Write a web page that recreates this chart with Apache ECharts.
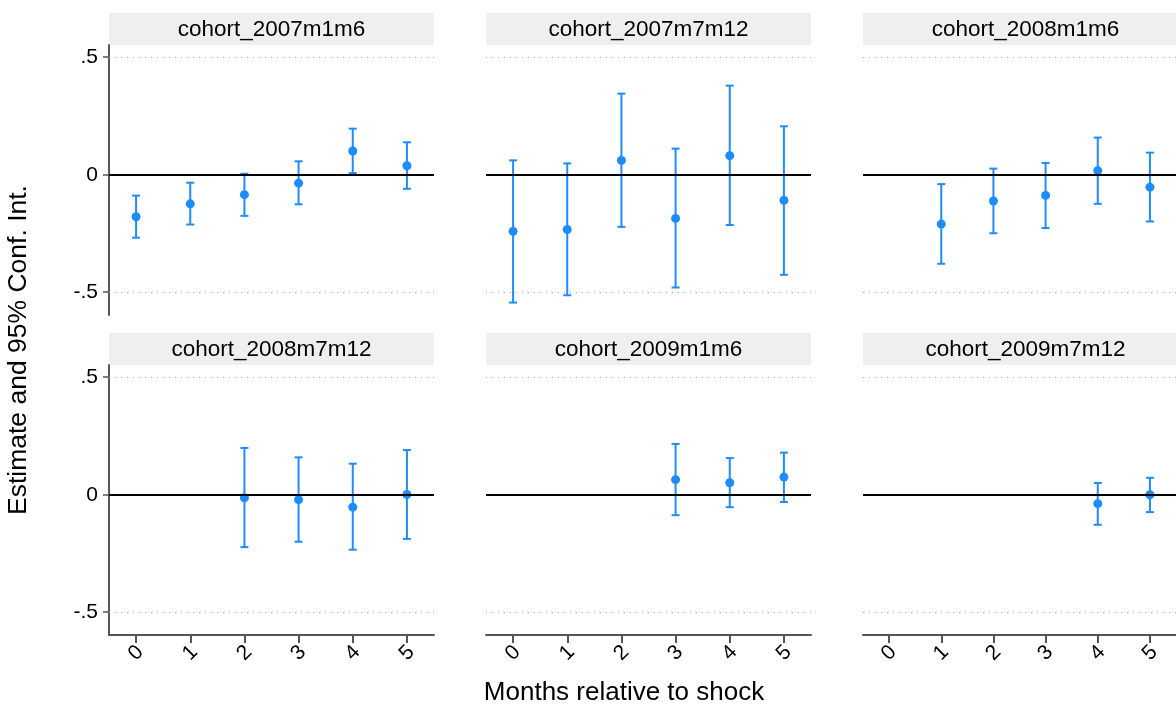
<!DOCTYPE html>
<html>
<head>
<meta charset="utf-8">
<script src="https://cdn.jsdelivr.net/npm/echarts@6/dist/echarts.min.js"></script>
<style>
  html, body { margin: 0; padding: 0; background: #fff; overflow: hidden; }
  #chart { width: 1176px; height: 704px; }
</style>
</head>
<body>
<div id="chart"></div>
<script>
// ---------------- data ----------------
const months = ['0', '1', '2', '3', '4', '5'];
const yTicks = [-0.5, 0, 0.5];
const yTickLabels = ['-.5', '0', '.5'];
const panelNames = ['cohort_2007m1m6', 'cohort_2007m7m12', 'cohort_2008m1m6',
                    'cohort_2008m7m12', 'cohort_2009m1m6', 'cohort_2009m7m12'];
const xTitle = 'Months relative to shock';
const yTitle = 'Estimate and 95% Conf. Int.';

const est_2007m1m6  = [-0.179, -0.124, -0.085, -0.036, 0.101, 0.038];
const lo_2007m1m6   = [-0.268, -0.212, -0.175, -0.126, 0.007, -0.060];
const hi_2007m1m6   = [-0.089, -0.034, 0.004, 0.057, 0.196, 0.138];

const est_2007m7m12 = [-0.241, -0.233, 0.061, -0.186, 0.081, -0.109];
const lo_2007m7m12  = [-0.544, -0.513, -0.222, -0.480, -0.214, -0.426];
const hi_2007m7m12  = [0.061, 0.048, 0.345, 0.111, 0.379, 0.206];

const est_2008m1m6  = [null, -0.210, -0.112, -0.088, 0.017, -0.053];
const lo_2008m1m6   = [null, -0.379, -0.249, -0.227, -0.124, -0.199];
const hi_2008m1m6   = [null, -0.040, 0.026, 0.050, 0.158, 0.094];

const est_2008m7m12 = [null, null, -0.013, -0.021, -0.053, 0.001];
const lo_2008m7m12  = [null, null, -0.223, -0.200, -0.234, -0.188];
const hi_2008m7m12  = [null, null, 0.199, 0.159, 0.132, 0.190];

const est_2009m1m6  = [null, null, null, 0.064, 0.051, 0.075];
const lo_2009m1m6   = [null, null, null, -0.087, -0.053, -0.031];
const hi_2009m1m6   = [null, null, null, 0.216, 0.156, 0.179];

const est_2009m7m12 = [null, null, null, null, -0.038, 0.000];
const lo_2009m7m12  = [null, null, null, null, -0.128, -0.074];
const hi_2009m7m12  = [null, null, null, null, 0.050, 0.072];

const estimates = [est_2007m1m6, est_2007m7m12, est_2008m1m6, est_2008m7m12, est_2009m1m6, est_2009m7m12];
const lowers    = [lo_2007m1m6, lo_2007m7m12, lo_2008m1m6, lo_2008m7m12, lo_2009m1m6, lo_2009m7m12];
const uppers    = [hi_2007m1m6, hi_2007m7m12, hi_2008m1m6, hi_2008m7m12, hi_2009m1m6, hi_2009m7m12];

// ---------------- layout / style ----------------
const BLUE = '#1E8CFF';
const AXIS = '#555555';
const FONT = '"Liberation Sans", Arial, sans-serif';
const colLeft = [109, 486, 863];
const rowTop = [45, 365];
const panelW = 325, panelH = 270;
const stripH = 32;
const Y_MIN = -0.597, Y_MAX = 0.552;

const grids = [], xAxes = [], yAxes = [], series = [], graphics = [];

for (let i = 0; i < 6; i++) {
  const r = Math.floor(i / 3), c = i % 3;
  grids.push({ left: colLeft[c], top: rowTop[r], width: panelW, height: panelH, containLabel: false });
  const bottomRow = r === 1;
  xAxes.push({
    gridIndex: i, type: 'category', data: months, boundaryGap: true,
    axisLine: { show: bottomRow, onZero: false, lineStyle: { color: AXIS, width: 2 } },
    axisTick: { show: bottomRow, alignWithLabel: true, length: 8, lineStyle: { color: AXIS, width: 2 } },
    axisLabel: { show: bottomRow, rotate: 45, margin: 18, align: 'center', verticalAlign: 'middle',
                 fontSize: 21, color: '#000', fontFamily: FONT },
    splitLine: { show: false }
  });
  const firstCol = c === 0;
  yAxes.push({
    gridIndex: i, type: 'value', min: Y_MIN, max: Y_MAX,
    axisLine: { show: firstCol, lineStyle: { color: AXIS, width: 2 } },
    axisTick: { show: firstCol, customValues: yTicks, length: 6, lineStyle: { color: AXIS, width: 1.5 } },
    axisLabel: {
      show: firstCol, customValues: yTicks, margin: 11, fontSize: 21, color: '#000', fontFamily: FONT,
      formatter: function (v) {
        const k = yTicks.findIndex(t => Math.abs(t - v) < 1e-9);
        return k >= 0 ? yTickLabels[k] : '';
      }
    },
    splitLine: { show: false }
  });

  // reference lines (gridlines at ±.5 and the zero line)
  series.push({
    type: 'line', xAxisIndex: i, yAxisIndex: i, data: [], z: 1, silent: true,
    markLine: {
      silent: true, symbol: 'none', animation: false,
      label: { show: false },
      data: [
        { yAxis: 0.5, lineStyle: { color: '#a8a8a8', width: 1, type: [1, 5] } },
        { yAxis: -0.5, lineStyle: { color: '#a8a8a8', width: 1, type: [1, 5] } },
        { yAxis: 0, lineStyle: { color: '#000', width: 2, type: 'solid' } }
      ]
    }
  });

  const ciData = [], ptData = [];
  for (let k = 0; k < months.length; k++) {
    if (estimates[i][k] !== null) {
      ciData.push([k, lowers[i][k], uppers[i][k]]);
      ptData.push([k, estimates[i][k]]);
    }
  }
  series.push({
    type: 'custom', xAxisIndex: i, yAxisIndex: i, z: 3, silent: true, animation: false,
    data: ciData,
    encode: { x: 0, y: [1, 2] },
    renderItem: function (params, api) {
      const x = api.value(0);
      const pLo = api.coord([x, api.value(1)]);
      const pHi = api.coord([x, api.value(2)]);
      const cap = 4;
      const st = { stroke: BLUE, lineWidth: 2 };
      return {
        type: 'group', children: [
          { type: 'line', shape: { x1: pLo[0], y1: pLo[1], x2: pHi[0], y2: pHi[1] }, style: st },
          { type: 'line', shape: { x1: pLo[0] - cap, y1: pLo[1], x2: pLo[0] + cap, y2: pLo[1] }, style: st },
          { type: 'line', shape: { x1: pHi[0] - cap, y1: pHi[1], x2: pHi[0] + cap, y2: pHi[1] }, style: st }
        ]
      };
    }
  });
  series.push({
    type: 'scatter', xAxisIndex: i, yAxisIndex: i, z: 4, silent: true, animation: false,
    symbol: 'circle', symbolSize: 9, itemStyle: { color: BLUE, opacity: 1 },
    data: ptData
  });

  // strip (panel title)
  graphics.push({
    type: 'group', left: colLeft[c], top: rowTop[r] - stripH, silent: true,
    children: [
      { type: 'rect', shape: { x: 0, y: 0, width: panelW, height: stripH }, style: { fill: '#efefef' } },
      { type: 'text', x: panelW / 2, y: stripH / 2 + 1,
        style: { text: panelNames[i], fill: '#000', font: '22.5px ' + FONT, textAlign: 'center', textVerticalAlign: 'middle' } }
    ]
  });
}

graphics.push({
  type: 'text', x: 624, y: 693, silent: true,
  style: { text: xTitle, fill: '#000', font: '26px ' + FONT, textAlign: 'center', textVerticalAlign: 'middle' }
});
graphics.push({
  type: 'text', x: 19, y: 350, rotation: Math.PI / 2, silent: true,
  style: { text: yTitle, fill: '#000', font: '26.5px ' + FONT, textAlign: 'center', textVerticalAlign: 'middle' }
});

const chart = echarts.init(document.getElementById('chart'), null, { renderer: 'canvas' });
chart.setOption({
  backgroundColor: '#ffffff',
  animation: false,
  grid: grids,
  xAxis: xAxes,
  yAxis: yAxes,
  series: series,
  graphic: graphics
});
</script>
</body>
</html>
